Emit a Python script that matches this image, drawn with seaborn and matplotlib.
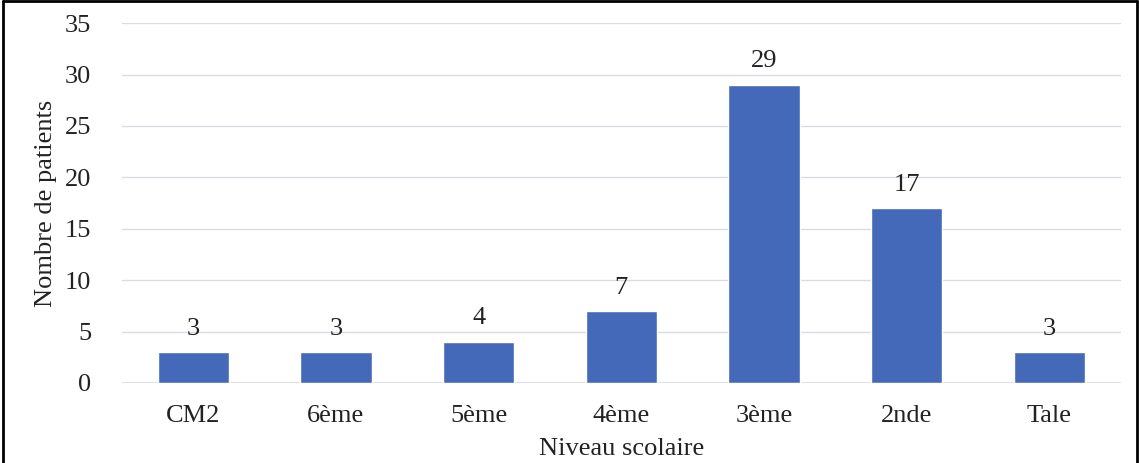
import matplotlib
matplotlib.use('Agg')
import matplotlib.pyplot as plt
import seaborn as sns
import pandas as pd
from matplotlib.lines import Line2D

niveaux = ['CM2', '6ème', '5ème', '4ème', '3ème', '2nde', 'Tale']
patients = [3, 3, 4, 7, 29, 17, 3]

df = pd.DataFrame({'niveau': niveaux, 'patients': patients})

sns.set_theme(style='white')
plt.rcParams['font.family'] = ['Liberation Serif', 'DejaVu Serif']

FS = 19

fig = plt.figure(figsize=(11.39, 4.63), dpi=100)
ax = fig.add_axes([0.107, 0.1728, 0.877, 0.7772])

sns.barplot(data=df, x='niveau', y='patients', color='#4569b9', width=0.5,
            saturation=1, ax=ax, zorder=3)

ax.bar_label(ax.containers[0], fontsize=FS, padding=9, color='#222222')

ax.set_ylim(0, 35)
ax.set_yticks(range(0, 36, 5))
ax.yaxis.grid(True, color='#d9dce3', linewidth=1, zorder=0)
ax.axhline(0, color='#d9dce3', linewidth=1.2, zorder=1)
ax.set_axisbelow(True)
for s in ax.spines.values():
    s.set_visible(False)
ax.tick_params(axis='both', labelsize=FS, colors='#222222', length=0)
ax.tick_params(axis='y', pad=22)
ax.tick_params(axis='x', pad=16)
ax.set_xlim(-0.5, len(niveaux) - 0.5)

ax.set_xlabel('Niveau scolaire', fontsize=FS, color='#222222', labelpad=8)
ax.set_ylabel('Nombre de patients', fontsize=FS, color='#222222', labelpad=6)

# cadre autour de la figure
for xs, ys in [([0.003, 0.003], [0, 0.997]), ([0.003, 0.998], [0.997, 0.997]),
               ([0.998, 0.998], [0, 0.997])]:
    fig.add_artist(Line2D(xs, ys, color='black', linewidth=2, transform=fig.transFigure))

fig.savefig('out.png', dpi=100)
